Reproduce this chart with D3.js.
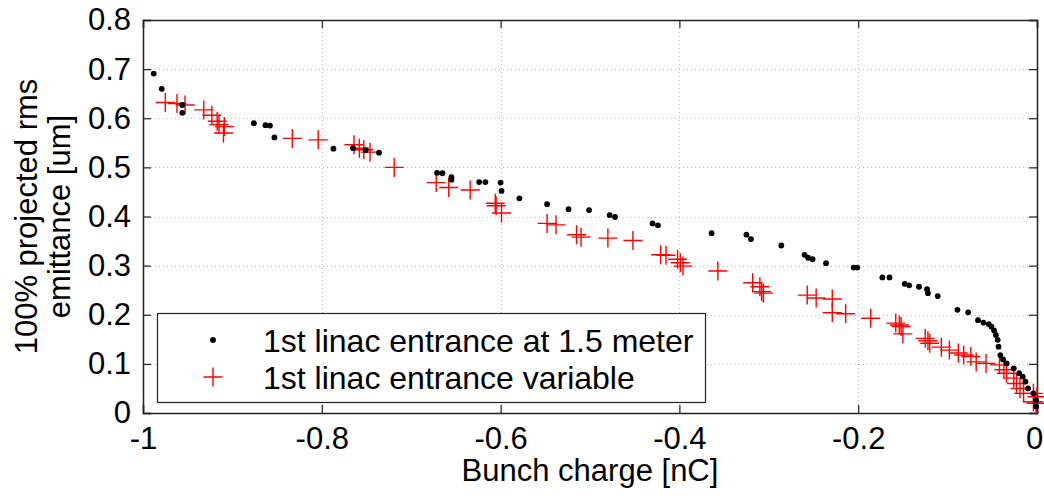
<!DOCTYPE html>
<html><head><meta charset="utf-8">
<script src="https://cdn.jsdelivr.net/npm/d3@7"></script>
<style>body{margin:0;background:#fff;} text{font-family:"Liberation Sans",Arial,sans-serif;fill:#000;}</style>
</head><body><svg id="c" width="1044" height="496"></svg>
<script>
const xTicks = [-1, -0.8, -0.6, -0.4, -0.2, 0];
const xTickLabels = ["-1", "-0.8", "-0.6", "-0.4", "-0.2", "0"];
const yTicks = [0, 0.1, 0.2, 0.3, 0.4, 0.5, 0.6, 0.7, 0.8];
const yTickLabels = ["0", "0.1", "0.2", "0.3", "0.4", "0.5", "0.6", "0.7", "0.8"];
const seriesNames = ["1st linac entrance at 1.5 meter", "1st linac entrance variable"];
const xTitle = "Bunch charge [nC]";
const yTitle = ["100% projected rms", "emittance [um]"];

const fixedX = [-0.988,-0.979,-0.956,-0.956,-0.876,-0.863,-0.858,-0.853,-0.787,-0.765,-0.751,-0.736,-0.671,-0.665,-0.655,-0.655,-0.624,-0.617,-0.600,-0.599,-0.579,-0.548,-0.524,-0.501,-0.478,-0.472,-0.430,-0.424,-0.364,-0.325,-0.320,-0.286,-0.260,-0.256,-0.251,-0.236,-0.205,-0.201,-0.173,-0.165,-0.148,-0.143,-0.132,-0.123,-0.122,-0.111,-0.089,-0.077,-0.066,-0.060,-0.054,-0.051,-0.048,-0.046,-0.044,-0.043,-0.041,-0.038,-0.034,-0.026,-0.020,-0.016,-0.013,-0.010,-0.004,-0.001,-0.001];
const fixedY = [0.691,0.660,0.627,0.611,0.590,0.586,0.585,0.561,0.538,0.539,0.535,0.530,0.489,0.488,0.480,0.475,0.470,0.470,0.469,0.452,0.437,0.425,0.415,0.413,0.403,0.399,0.386,0.382,0.366,0.363,0.354,0.341,0.322,0.316,0.313,0.305,0.296,0.296,0.276,0.276,0.263,0.260,0.257,0.252,0.244,0.238,0.210,0.205,0.189,0.184,0.181,0.176,0.168,0.159,0.149,0.135,0.118,0.109,0.101,0.091,0.081,0.074,0.064,0.050,0.040,0.026,0.013];

const varX = [-0.975,-0.962,-0.953,-0.932,-0.923,-0.917,-0.915,-0.909,-0.910,-0.833,-0.804,-0.764,-0.758,-0.753,-0.746,-0.719,-0.672,-0.658,-0.634,-0.606,-0.605,-0.599,-0.548,-0.538,-0.515,-0.510,-0.480,-0.452,-0.421,-0.415,-0.402,-0.399,-0.396,-0.357,-0.318,-0.310,-0.308,-0.306,-0.257,-0.247,-0.229,-0.229,-0.214,-0.186,-0.158,-0.154,-0.152,-0.150,-0.125,-0.122,-0.120,-0.107,-0.098,-0.088,-0.082,-0.074,-0.068,-0.057,-0.042,-0.037,-0.034,-0.026,-0.023,-0.019,-0.015,-0.004,-0.001,-0.004,0.000];
const varY = [0.632,0.630,0.627,0.617,0.606,0.594,0.587,0.583,0.570,0.559,0.556,0.546,0.539,0.536,0.531,0.500,0.469,0.459,0.454,0.427,0.422,0.407,0.386,0.383,0.363,0.358,0.356,0.351,0.322,0.321,0.313,0.306,0.299,0.289,0.265,0.257,0.247,0.244,0.240,0.234,0.232,0.204,0.202,0.193,0.183,0.179,0.176,0.161,0.152,0.147,0.142,0.134,0.128,0.122,0.118,0.115,0.104,0.101,0.098,0.088,0.081,0.071,0.060,0.050,0.040,0.040,0.020,0.023,0.033];

const L = 143, R = 1037, T = 20, B = 413;
const FS = 31, LFS = 32;
const svg = d3.select("#c");
const x = d3.scaleLinear().domain([-1, 0]).range([L, R]);
const y = d3.scaleLinear().domain([0, 0.8]).range([B, T]);

// grid
const grid = svg.append("g").attr("stroke", "#bdbdbd").attr("stroke-width", 1).attr("stroke-dasharray", "1,3");
grid.selectAll(".gx").data(xTicks.slice(1, -1)).join("line")
  .attr("x1", d => Math.round(x(d)) + 0.5).attr("x2", d => Math.round(x(d)) + 0.5).attr("y1", T).attr("y2", B);
grid.selectAll(".gy").data(yTicks.slice(1, -1)).join("line")
  .attr("y1", d => Math.round(y(d)) + 0.5).attr("y2", d => Math.round(y(d)) + 0.5).attr("x1", L).attr("x2", R);

// axes
const tickFmt = (arr, labels) => d => labels[arr.indexOf(d)];
const xAxis = d3.axisBottom(x).tickValues(xTicks).tickFormat(tickFmt(xTicks, xTickLabels)).tickSize(-8).tickPadding(14);
const yAxis = d3.axisLeft(y).tickValues(yTicks).tickFormat(tickFmt(yTicks, yTickLabels)).tickSize(-8).tickPadding(12);
const gx = svg.append("g").attr("transform", `translate(0,${B})`).call(xAxis);
const gy = svg.append("g").attr("transform", `translate(${L},0)`).call(yAxis);
const gxt = svg.append("g").attr("transform", `translate(0,${T})`).call(d3.axisTop(x).tickValues(xTicks).tickFormat("").tickSize(-8));
const gyr = svg.append("g").attr("transform", `translate(${R},0)`).call(d3.axisRight(y).tickValues(yTicks).tickFormat("").tickSize(-8));
[gx, gy, gxt, gyr].forEach(g => {
  g.select(".domain").attr("stroke", "#222").attr("stroke-width", 1.5);
  g.selectAll(".tick line").attr("stroke", "#222").attr("stroke-width", 1.2);
  g.selectAll("text").attr("font-size", FS).attr("font-family", "Liberation Sans, Arial, sans-serif").attr("fill", "#000");
});
// keep the last x label inside the picture
gx.selectAll(".tick text").filter(d => d === 0).attr("dx", -3);

// data
const dots = fixedX.map((v, i) => [v, fixedY[i]]);
const crosses = varX.map((v, i) => [v, varY[i]]);
const cs = 9.5;
const cg = svg.append("g").attr("stroke", "#ff0000").attr("stroke-width", 1.4).attr("fill", "none");
cg.selectAll("path").data(crosses).join("path")
  .attr("d", d => `M${x(d[0]) - cs},${y(d[1])}H${x(d[0]) + cs}M${x(d[0])},${y(d[1]) - cs}V${y(d[1]) + cs}`);
svg.append("g").selectAll("circle").data(dots).join("circle")
  .attr("cx", d => x(d[0])).attr("cy", d => y(d[1])).attr("r", 2.9).attr("fill", "#000");

// titles
svg.append("text").attr("x", (L + R) / 2).attr("y", 481).attr("text-anchor", "middle").attr("font-size", FS).text(xTitle);
const yt = svg.append("g").attr("transform", `translate(0,${(T + B) / 2})`);
yt.append("text").attr("transform", "translate(37,0) rotate(-90)").attr("text-anchor", "middle").attr("font-size", FS).text(yTitle[0]);
yt.append("text").attr("transform", "translate(70,0) rotate(-90)").attr("text-anchor", "middle").attr("font-size", FS).text(yTitle[1]);

// legend
const lg = svg.append("g");
lg.append("rect").attr("x", 157.5).attr("y", 313.5).attr("width", 548).attr("height", 89).attr("fill", "#fff").attr("stroke", "#222").attr("stroke-width", 1.2);
lg.append("circle").attr("cx", 213).attr("cy", 340).attr("r", 2.9).attr("fill", "#000");
lg.append("path").attr("d", `M${213 - cs},377H${213 + cs}M213,${377 - cs}V${377 + cs}`).attr("stroke", "#ff0000").attr("stroke-width", 1.4);
lg.append("text").attr("x", 263).attr("y", 352).attr("font-size", LFS).text(seriesNames[0]);
lg.append("text").attr("x", 263).attr("y", 389).attr("font-size", LFS).text(seriesNames[1]);
</script></body></html>
